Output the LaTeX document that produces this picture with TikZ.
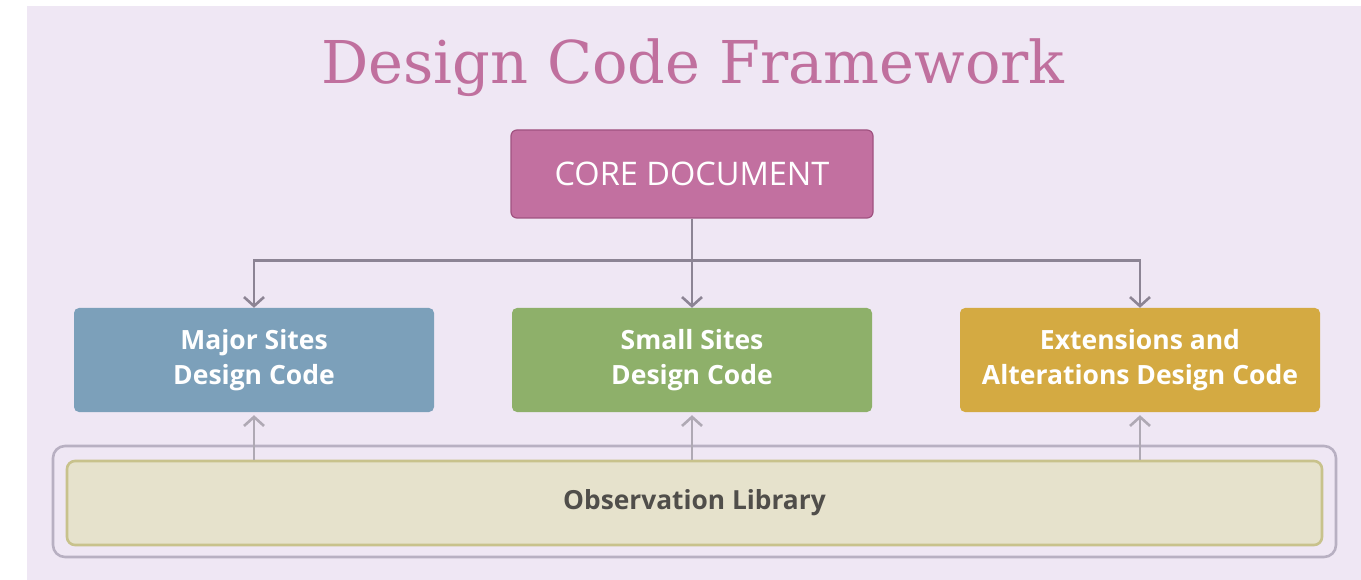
\documentclass[tikz,border=0pt]{standalone}
\usepackage{fontspec}
\setmainfont{Open Sans}
\newfontfamily\titlefont{DejaVu Serif}
\usetikzlibrary{arrows.meta}

\definecolor{bgcol}{RGB}{239,231,244}
\definecolor{titlecol}{RGB}{192,112,158}
\definecolor{corecol}{RGB}{194,112,160}
\definecolor{coreline}{RGB}{160,82,128}
\definecolor{majorcol}{RGB}{124,160,186}
\definecolor{smallcol}{RGB}{142,176,106}
\definecolor{extcol}{RGB}{212,170,66}
\definecolor{libcol}{RGB}{230,226,204}
\definecolor{libline}{RGB}{200,194,140}
\definecolor{framecol}{RGB}{184,176,194}
\definecolor{arrowcol}{RGB}{140,132,148}
\definecolor{libtext}{RGB}{80,78,74}

\begin{document}
\begin{tikzpicture}[x=1pt,y=-1pt,
    box/.style={rounded corners=5pt, minimum width=360pt, minimum height=104pt,
      align=center, text=white, font=\fontsize{26.5}{35}\selectfont\bfseries},
    flow/.style={draw=arrowcol, line width=2.6pt, -{Straight Barb[length=9pt,width=20pt]}},
    upflow/.style={draw=arrowcol!70, line width=1.6pt, -{Straight Barb[length=9pt,width=20pt,line width=2.6pt]}}]
    \fill[white] (0,0) rectangle (1361,580);
    \fill[bgcol] (27,6) rectangle (1361,580);
    \useasboundingbox (0,0) rectangle (1361,580);

    \node[text=titlecol, font=\titlefont\fontsize{59}{64}\selectfont] (title) at (693,68) {Design Code Framework};

    \node[fill=corecol, draw=coreline, line width=1.2pt, rounded corners=6pt,
      minimum width=362pt, minimum height=88pt, text=white,
      font=\fontsize{32.5}{36}\selectfont] (core) at (692,174) {CORE DOCUMENT};

    \node[box, fill=majorcol] (major) at (254,360) {Major Sites\\Design Code};
    \node[box, fill=smallcol] (small) at (692,360) {Small Sites\\Design Code};
    \node[box, fill=extcol] (ext) at (1140,360) {Extensions and\\Alterations Design Code};

    \node[draw=framecol, line width=2.6pt, rounded corners=12pt,
      minimum width=1283pt, minimum height=111pt] (frame) at (694.5,501.5) {};
    \node[fill=libcol, draw=libline, line width=2.6pt, rounded corners=8pt,
      minimum width=1255pt, minimum height=84pt, text=libtext,
      font=\fontsize{26.3}{30}\selectfont\bfseries] (lib) at (694.5,503) {Observation Library};

    \draw[flow] (core.south) -- (small.north);
    \draw[flow] (core.south) ++(0,42) -| (major.north);
    \draw[flow] (core.south) ++(0,42) -| (ext.north);
    \foreach \b in {major,small,ext}
      \draw[upflow, shorten >=3pt] (lib.north -| \b.south) -- (\b.south);
\end{tikzpicture}
\end{document}
